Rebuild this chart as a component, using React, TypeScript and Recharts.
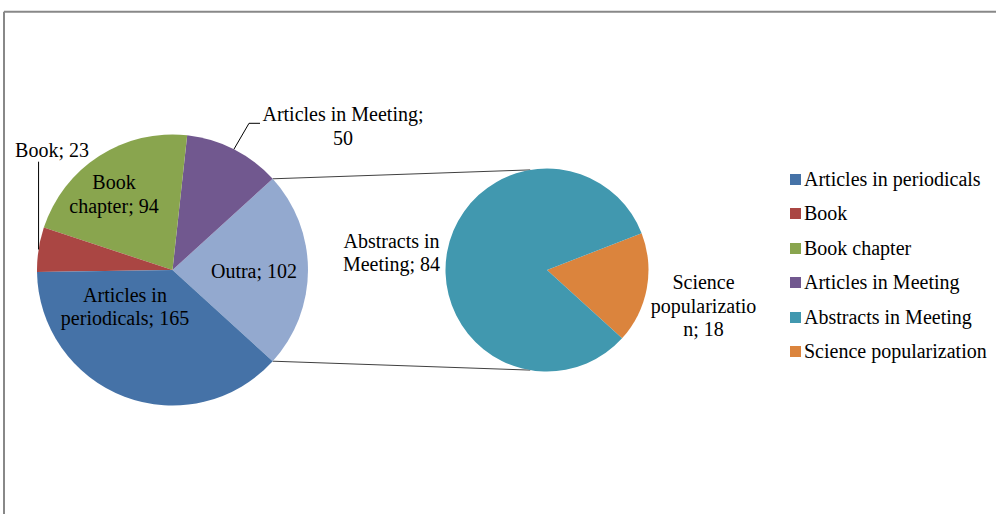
import React from "react";
import { PieChart, Pie, Cell, Legend, Customized } from "recharts";

// ---------- data ----------
const mainNames = ["Outra", "Articles in Meeting", "Book chapter", "Book", "Articles in periodicals"];
const mainValues = [102, 50, 94, 23, 165];
const subNames = ["Science popularization", "Abstracts in Meeting"];
const subValues = [18, 84];
const legendNames = [
  "Articles in periodicals",
  "Book",
  "Book chapter",
  "Articles in Meeting",
  "Abstracts in Meeting",
  "Science popularization",
];

// ---------- styles ----------
const COLORS: Record<string, string> = {
  "Articles in periodicals": "#4572A7",
  Book: "#AA4643",
  "Book chapter": "#89A54E",
  "Articles in Meeting": "#71588F",
  "Abstracts in Meeting": "#4198AF",
  "Science popularization": "#DB843D",
  Outra: "#93A9CF",
};
const FONT = "'Liberation Serif', 'Times New Roman', serif";
const FS = 20;
const LH = 23.5;
const W = 996;
const H = 514;

const MAIN = { cx: 172.5, cy: 270, r: 135.5 };
const SUB = { cx: 547, cy: 270, r: 101.5 };

const mainData = mainNames.map((n, i) => ({ name: n, value: mainValues[i] }));
const subData = subNames.map((n, i) => ({ name: n, value: subValues[i] }));
const mainTotal = mainValues.reduce((a, b) => a + b, 0);
const outraHalf = (mainValues[0] / mainTotal) * 360 / 2;
const START = -outraHalf;

// label layout (offsets relative to pie centre)
type Lay = { x: number; y: number; breaks: number[]; leader?: [number, number][] };
const LAYOUT: Record<string, Lay> = {
  Outra: { x: 81.5, y: 1, breaks: [] },
  "Book chapter": { x: -58.5, y: -88, breaks: [4] },
  "Articles in periodicals": { x: -47.5, y: 24.5, breaks: [11] },
  Book: { x: -120.5, y: -120, breaks: [], leader: [[NaN, -108.3]] },
  "Articles in Meeting": { x: 170.5, y: -156, breaks: [20], leader: [[76.5, -146.7], [87.5, -146.7]] },
  "Abstracts in Meeting": { x: -155.5, y: -29.5, breaks: [12] },
  "Science popularization": { x: 156.5, y: 12, breaks: [7, 21] },
};

const RAD = Math.PI / 180;

function splitLabel(s: string, breaks: number[]) {
  const out: string[] = [];
  let prev = 0;
  breaks.forEach((b) => {
    out.push(s.slice(prev, b).trim());
    prev = b;
  });
  out.push(s.slice(prev).trim());
  return out;
}

function renderLabel(props: any) {
  const { cx, cy, midAngle, outerRadius } = props;
  const name = props.payload?.name ?? props.name;
  const value = props.payload?.value ?? props.value;
  const lay = LAYOUT[name];
  if (!lay) return null;
  const lines = splitLabel(`${name}; ${value}`, lay.breaks);
  let leader = null;
  if (lay.leader) {
    const ex = cx + outerRadius * Math.cos(-midAngle * RAD);
    const ey = cy + outerRadius * Math.sin(-midAngle * RAD);
    const pts = [[ex, ey], ...lay.leader.map(([dx, dy]) => [isNaN(dx) ? ex : cx + dx, cy + dy])];
    leader = (
      <polyline
        points={pts.map((p) => p.join(",")).join(" ")}
        fill="none"
        stroke="#000"
        strokeWidth={1}
      />
    );
  }
  return (
    <g key={`lbl-${name}`}>
      {leader}
      <text
        x={cx + lay.x}
        y={cy + lay.y}
        textAnchor="middle"
        fontFamily={FONT}
        fontSize={FS}
        fill="#000"
      >
        {lines.map((l, i) => (
          <tspan key={i} x={cx + lay.x} y={cy + lay.y + i * LH} dominantBaseline="central">
            {l}
          </tspan>
        ))}
      </text>
    </g>
  );
}

function Decor() {
  // connector lines between the "Outra" slice edges and the secondary pie
  const a1 = outraHalf * RAD;
  const p1 = [MAIN.cx + MAIN.r * Math.cos(a1), MAIN.cy - MAIN.r * Math.sin(a1)];
  const p2 = [MAIN.cx + MAIN.r * Math.cos(a1), MAIN.cy + MAIN.r * Math.sin(a1)];
  const b = 99.5 * RAD;
  const q1 = [SUB.cx + SUB.r * Math.cos(b), SUB.cy - SUB.r * Math.sin(b)];
  const q2 = [SUB.cx + SUB.r * Math.cos(b), SUB.cy + SUB.r * Math.sin(b)];
  return (
    <g>
      <line x1={4} y1={11.7} x2={W} y2={11.7} stroke="#888" strokeWidth={2} />
      <line x1={4} y1={11.7} x2={4} y2={H} stroke="#888" strokeWidth={2} />
      <line x1={p1[0]} y1={p1[1]} x2={q1[0]} y2={q1[1]} stroke="#404040" strokeWidth={1} />
      <line x1={p2[0]} y1={p2[1]} x2={q2[0]} y2={q2[1]} stroke="#404040" strokeWidth={1} />
    </g>
  );
}

function LegendBox() {
  return (
    <div style={{ fontFamily: FONT, fontSize: FS, color: "#000" }}>
      {legendNames.map((n) => (
        <div
          key={n}
          style={{ height: 34.5, display: "flex", alignItems: "center", whiteSpace: "nowrap" }}
        >
          <span
            style={{
              display: "inline-block",
              width: 11,
              height: 11,
              background: COLORS[n],
              marginRight: 3,
            }}
          />
          <span>{n}</span>
        </div>
      ))}
    </div>
  );
}

export default function App() {
  return (
    <div style={{ position: "absolute", left: 0, top: 0, width: W, height: H, background: "#fff" }}>
      <PieChart width={W} height={H} margin={{ top: 0, right: 0, bottom: 0, left: 0 }}>
        <Customized component={Decor} />
        <Pie
          data={mainData}
          dataKey="value"
          nameKey="name"
          cx={MAIN.cx}
          cy={MAIN.cy}
          outerRadius={MAIN.r}
          startAngle={START}
          endAngle={START + 360}
          stroke="none"
          label={renderLabel}
          labelLine={false}
          isAnimationActive={false}
        >
          {mainData.map((d) => (
            <Cell key={d.name} fill={COLORS[d.name]} />
          ))}
        </Pie>
        <Pie
          data={subData}
          dataKey="value"
          nameKey="name"
          cx={SUB.cx}
          cy={SUB.cy}
          outerRadius={SUB.r}
          startAngle={START}
          endAngle={START + 360}
          stroke="none"
          label={renderLabel}
          labelLine={false}
          isAnimationActive={false}
        >
          {subData.map((d) => (
            <Cell key={d.name} fill={COLORS[d.name]} />
          ))}
        </Pie>
        <Legend
          layout="vertical"
          verticalAlign="middle"
          align="right"
          content={() => <LegendBox />}
          wrapperStyle={{ left: 790, top: 162, right: "auto", width: 206 }}
        />
      </PieChart>
    </div>
  );
}
